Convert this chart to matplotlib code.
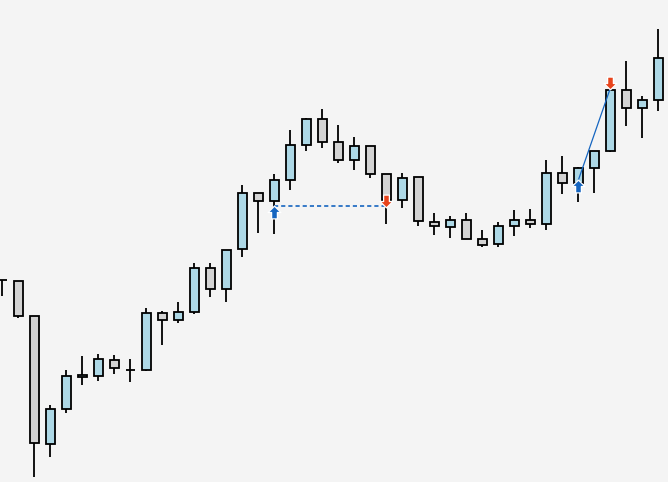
import numpy as np
import matplotlib
matplotlib.use("Agg")
import matplotlib.pyplot as plt
from matplotlib.path import Path

# candle data (price units)
opens  = [202, 201, 166, 38, 73, 105, 106, 122, 112, 112, 169, 162, 170, 214, 193, 233, 289, 281, 302, 337, 363,
          340, 322, 336, 308, 282, 305, 260, 255, 262, 243, 238, 256, 262, 258, 309, 299, 314, 331, 392, 374, 382]
highs  = [202, 201, 166, 77, 112, 126, 128, 127, 123, 174, 171, 180, 219, 219, 232, 297, 289, 308, 352, 364, 373,
          357, 345, 336, 308, 309, 305, 269, 266, 269, 252, 260, 272, 273, 322, 326, 315, 331, 405, 421, 386, 453]
lows   = [186, 164, 5, 25, 69, 97, 101, 108, 100, 111, 137, 159, 168, 185, 180, 225, 249, 248, 292, 331, 334,
          319, 312, 304, 258, 274, 256, 247, 244, 243, 235, 235, 246, 254, 252, 288, 280, 289, 330, 356, 344, 371]
closes = [202, 166, 39, 73, 106, 107, 123, 114, 112, 169, 162, 170, 214, 193, 232, 289, 281, 302, 337, 363, 340,
          322, 336, 308, 282, 304, 261, 256, 262, 243, 237, 256, 262, 258, 309, 299, 314, 331, 392, 374, 382, 424]

# trades: (entry index, entry price, exit index, exit price)
buy_idx = [17, 36]
buy_px = [276, 302]
sell_idx = [24, 38]
sell_px = [276, 394]

up_col = "#add8e6"
down_col = "#d3d3d3"
bg = "#f4f4f4"
blue = "#1565c0"
red = "#e8441c"

fig = plt.figure(figsize=(6.68, 4.82), dpi=100, facecolor=bg)
ax = fig.add_axes([0, 0, 1, 1])
ax.set_facecolor(bg)

x = np.arange(len(opens))
o = np.array(opens)
c = np.array(closes)
colors = [up_col if cc > oo else down_col for oo, cc in zip(o, c)]

ax.vlines(x, lows, highs, color="black", lw=1.3, zorder=1)
ax.bar(x, np.abs(c - o), bottom=np.minimum(o, c), width=0.56, color=colors,
       edgecolor="black", linewidth=1.3, zorder=2)

# trade lines
ax.plot([buy_idx[0], sell_idx[0]], [buy_px[0], sell_px[0]], color=blue, lw=1.2,
        linestyle=(0, (2.5, 1.8)), zorder=3)
ax.plot([buy_idx[1], sell_idx[1]], [buy_px[1], sell_px[1]], color=blue, lw=0.9, zorder=3)

# arrow markers
up_arrow = Path([(0, 1), (1, 0), (0.45, 0), (0.45, -1), (-0.45, -1), (-0.45, 0), (-1, 0), (0, 1)],
                [Path.MOVETO] + [Path.LINETO] * 6 + [Path.CLOSEPOLY])
down_arrow = Path([(0, -1), (1, 0), (0.45, 0), (0.45, 1), (-0.45, 1), (-0.45, 0), (-1, 0), (0, -1)],
                  [Path.MOVETO] + [Path.LINETO] * 6 + [Path.CLOSEPOLY])
off = 5.5
ax.scatter(buy_idx, np.array(buy_px) - off, marker=up_arrow, s=85, color=blue,
           edgecolors="white", linewidths=0.9, zorder=4)
ax.scatter(sell_idx, np.array(sell_px) + off, marker=down_arrow, s=85, color=red,
           edgecolors="white", linewidths=0.9, zorder=4)

ax.set_xlim(-0.144, 41.6)
ax.set_ylim(0, 482)
ax.axis("off")

fig.savefig("out.png", dpi=100, facecolor=bg)
